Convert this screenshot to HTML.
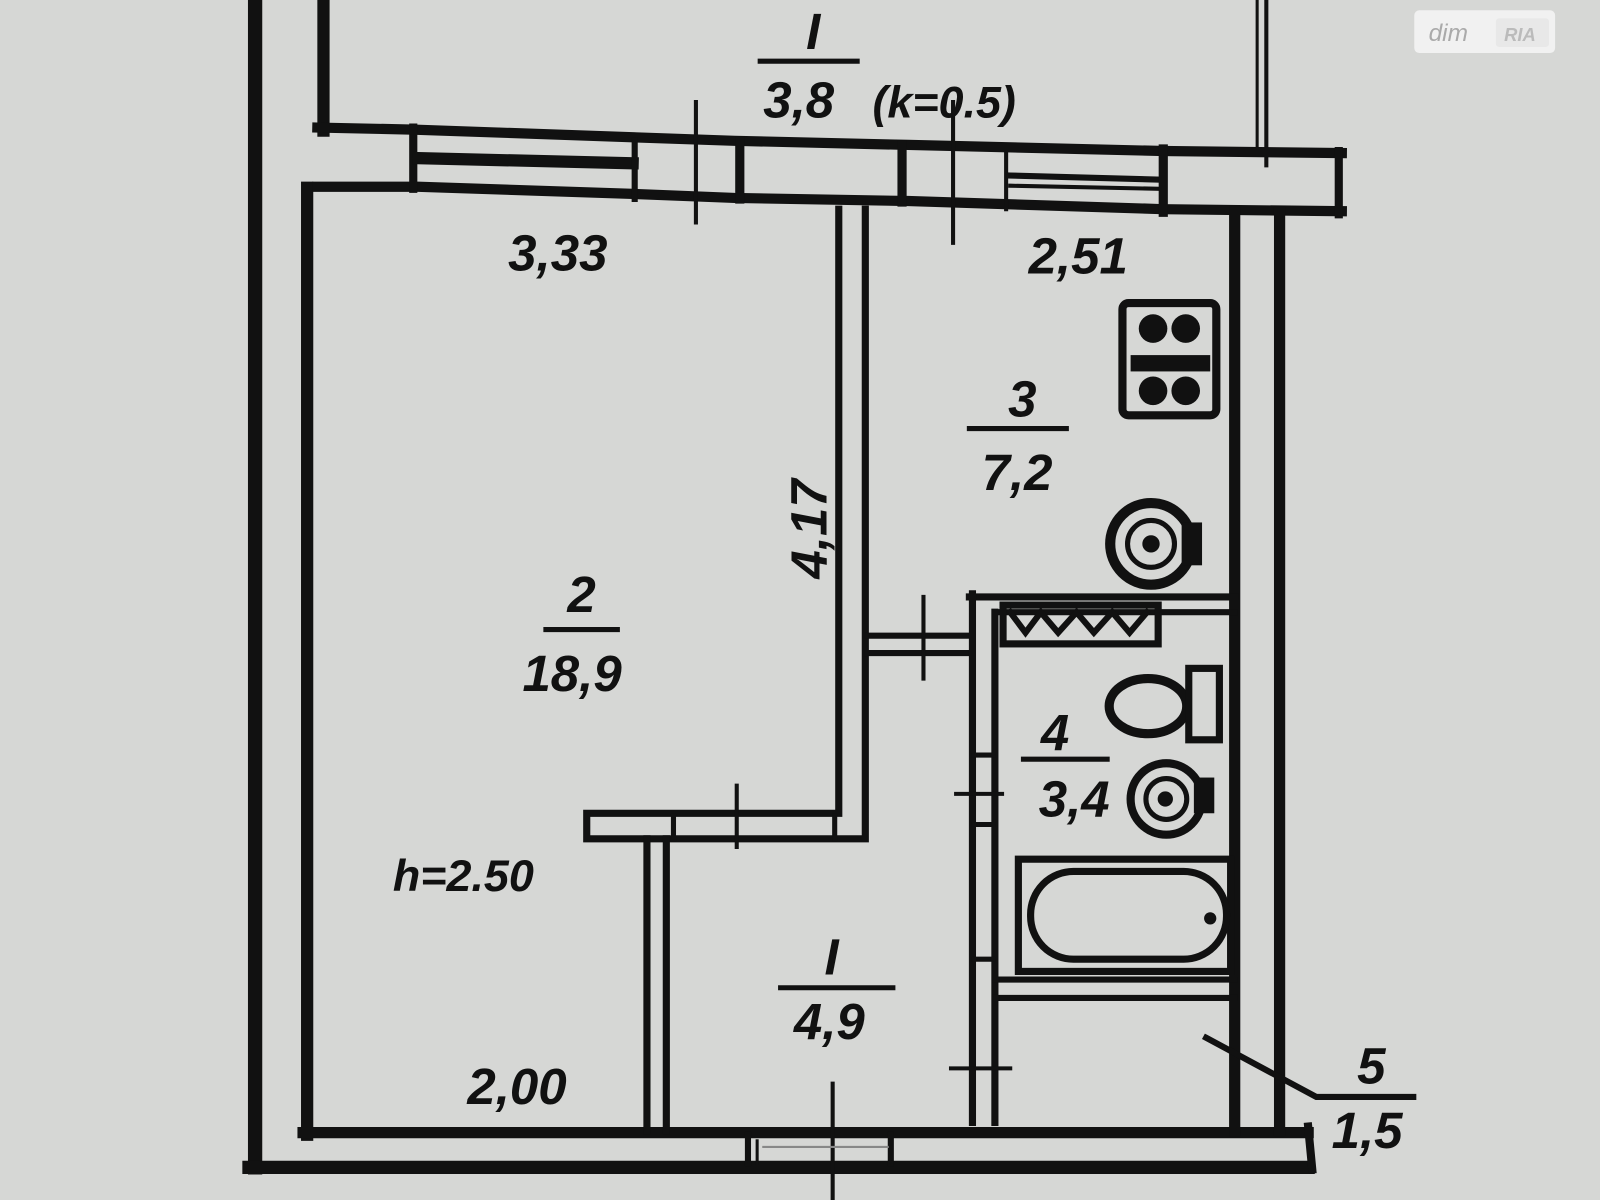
<!DOCTYPE html>
<html><head><meta charset="utf-8"><style>
html,body{margin:0;padding:0;background:#d6d7d5;}
svg{display:block}
text{font-family:"Liberation Sans",sans-serif;fill:#111;font-style:italic;font-weight:bold;}
</style></head><body>
<svg width="1600" height="1200" viewBox="0 0 1568 1176" preserveAspectRatio="none" xmlns="http://www.w3.org/2000/svg">
<rect width="1568" height="1176" fill="#d6d7d5"/>
<g stroke="#111" fill="none" stroke-linecap="square">
<line x1="250" y1="0" x2="250" y2="1144" stroke-width="14"/>
<line x1="244" y1="1144" x2="1282" y2="1144" stroke-width="13"/>
<line x1="301" y1="184" x2="301" y2="1112" stroke-width="12"/>
<line x1="297" y1="1110" x2="1282" y2="1110" stroke-width="11"/>
<line x1="1282" y1="1104" x2="1286" y2="1146" stroke-width="8"/>
<line x1="733" y1="1112" x2="733" y2="1140" stroke-width="6"/>
<line x1="742" y1="1118" x2="742" y2="1140" stroke-width="3"/>
<line x1="873" y1="1112" x2="873" y2="1140" stroke-width="6"/>
<line x1="816" y1="1062" x2="816" y2="1176" stroke-width="4"/>
<line x1="748" y1="1124" x2="870" y2="1124" stroke-width="2" stroke="#888"/>
<line x1="317" y1="0" x2="317" y2="128" stroke-width="12"/>
<line x1="1232" y1="0" x2="1232" y2="152" stroke-width="3"/>
<line x1="1241" y1="0" x2="1241" y2="162" stroke-width="4"/>
<path d="M311 125 L405 127 L720 138 L890 142 L1140 148 L1315 150" stroke-width="10"/>
<path d="M311 183 L410 183 L620 190 L720 194 L890 197 L1140 205 L1315 207" stroke-width="10"/>
<line x1="405" y1="125" x2="405" y2="185" stroke-width="8"/>
<line x1="410" y1="155" x2="620" y2="160" stroke-width="12"/>
<line x1="622" y1="138" x2="622" y2="195" stroke-width="6"/>
<line x1="682" y1="100" x2="682" y2="218" stroke-width="4"/>
<line x1="725" y1="138" x2="725" y2="195" stroke-width="9"/>
<line x1="884" y1="142" x2="884" y2="198" stroke-width="9"/>
<line x1="934" y1="100" x2="934" y2="238" stroke-width="4"/>
<line x1="986" y1="150" x2="986" y2="205" stroke-width="4"/>
<line x1="990" y1="172" x2="1135" y2="176" stroke-width="6"/>
<line x1="990" y1="182" x2="1135" y2="185" stroke-width="4"/>
<line x1="1140" y1="146" x2="1140" y2="208" stroke-width="9"/>
<line x1="1312" y1="148" x2="1312" y2="210" stroke-width="8"/>
<path d="M822 205 L822 797 L575 797 L575 822 L848 822 L848 205" stroke-width="7" fill="#d6d7d5"/>
<line x1="660" y1="800" x2="660" y2="822" stroke-width="5"/>
<line x1="722" y1="770" x2="722" y2="830" stroke-width="4"/>
<line x1="818" y1="800" x2="818" y2="822" stroke-width="5"/>
<line x1="634" y1="822" x2="634" y2="1108" stroke-width="7"/>
<line x1="653" y1="822" x2="653" y2="1108" stroke-width="7"/>
<line x1="1210" y1="208" x2="1210" y2="1108" stroke-width="11"/>
<line x1="1254" y1="208" x2="1254" y2="1108" stroke-width="11"/>
<line x1="850" y1="623" x2="952" y2="623" stroke-width="6"/>
<line x1="850" y1="640" x2="952" y2="640" stroke-width="6"/>
<line x1="905" y1="585" x2="905" y2="665" stroke-width="4"/>
<line x1="950" y1="585" x2="1210" y2="585" stroke-width="7"/>
<line x1="975" y1="600" x2="1210" y2="600" stroke-width="6"/>
<line x1="953" y1="582" x2="953" y2="1100" stroke-width="7"/>
<line x1="975" y1="600" x2="975" y2="1100" stroke-width="7"/>
<line x1="955" y1="740" x2="973" y2="740" stroke-width="5"/>
<line x1="955" y1="808" x2="973" y2="808" stroke-width="5"/>
<line x1="955" y1="940" x2="973" y2="940" stroke-width="5"/>
<line x1="937" y1="778" x2="982" y2="778" stroke-width="4"/>
<line x1="932" y1="1047" x2="990" y2="1047" stroke-width="4"/>
<rect x="983" y="593" width="152" height="38" stroke-width="7"/>
<path d="M990 600 L1005 620 L1020 600 L1037 620 L1055 600 L1072 620 L1090 600 L1107 620 L1124 600" stroke-width="6"/>
<ellipse cx="1125" cy="692" rx="38" ry="27" stroke-width="9"/>
<rect x="1165" y="655" width="30" height="70" stroke-width="7"/>
<circle cx="1143" cy="783" r="35" stroke-width="8"/>
<circle cx="1143" cy="783" r="20" stroke-width="5"/>
<circle cx="1142" cy="783" r="7" fill="#111"/>
<rect x="1170" y="762" width="20" height="35" fill="#111" stroke="none"/>
<rect x="998" y="842" width="208" height="110" stroke-width="7"/>
<rect x="1010" y="854" width="192" height="86" rx="42" stroke-width="7"/>
<circle cx="1186" cy="900" r="6" fill="#111" stroke="none"/>
<line x1="975" y1="960" x2="1210" y2="960" stroke-width="6"/>
<line x1="975" y1="978" x2="1210" y2="978" stroke-width="6"/>
<rect x="1100" y="297" width="92" height="110" rx="6" stroke-width="8"/>
<rect x="1108" y="348" width="78" height="16" fill="#111" stroke="none"/>
<circle cx="1130" cy="322" r="14" fill="#111" stroke="none"/>
<circle cx="1162" cy="322" r="14" fill="#111" stroke="none"/>
<circle cx="1130" cy="383" r="14" fill="#111" stroke="none"/>
<circle cx="1162" cy="383" r="14" fill="#111" stroke="none"/>
<circle cx="1128" cy="533" r="40" stroke-width="10"/>
<circle cx="1128" cy="533" r="23" stroke-width="5"/>
<circle cx="1128" cy="533" r="8" fill="#111"/>
<rect x="1158" y="512" width="20" height="42" fill="#111" stroke="none"/>
<path d="M1182 1017 L1290 1075 L1385 1075" stroke-width="6"/>
<line x1="745" y1="60" x2="840" y2="60" stroke-width="5"/>
<line x1="950" y1="420" x2="1045" y2="420" stroke-width="5"/>
<line x1="535" y1="617" x2="605" y2="617" stroke-width="5"/>
<line x1="1003" y1="744" x2="1085" y2="744" stroke-width="5"/>
<line x1="765" y1="968" x2="875" y2="968" stroke-width="5"/>
</g>
<g font-size="50">
<text x="790" y="48">I</text>
<text x="748" y="115">3,8</text>
<text x="855" y="115" font-size="44">(k=0.5)</text>
<text x="498" y="265">3,33</text>
<text x="1008" y="268">2,51</text>
<text x="988" y="408">3</text>
<text x="962" y="480">7,2</text>
<text x="556" y="600">2</text>
<text x="512" y="677">18,9</text>
<text x="810" y="567" transform="rotate(-90 810 567)">4,17</text>
<text x="1020" y="735">4</text>
<text x="1018" y="800">3,4</text>
<text x="808" y="955">I</text>
<text x="778" y="1018">4,9</text>
<text x="458" y="1082">2,00</text>
<text x="1330" y="1062">5</text>
<text x="1305" y="1125">1,5</text>
<text x="385" y="873" font-style="normal" font-size="44">h=2.50</text>
</g>
<rect x="1386" y="10" width="138" height="42" rx="5" fill="#f4f4f4" opacity="0.9"/>
<text x="1400" y="40" font-size="24" font-style="normal" style="fill:#aaa;font-weight:normal">dim</text>
<rect x="1466" y="18" width="52" height="28" rx="3" fill="#e8e8e8"/>
<text x="1474" y="40" font-size="18" style="fill:#bbb">RIA</text>
</svg>
</body></html>
